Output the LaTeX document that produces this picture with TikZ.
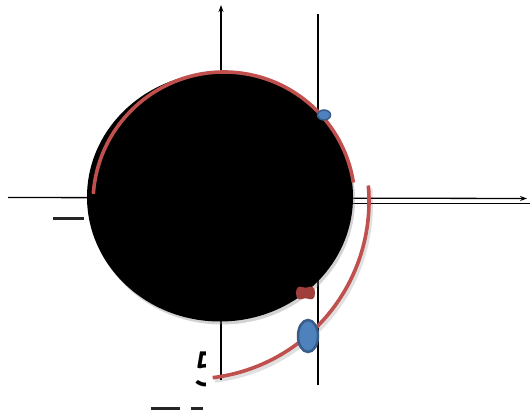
\documentclass[tikz,border=0pt]{standalone}
\usepackage{fontspec}
\newfontfamily\digitfont{Carlito}
\usetikzlibrary{shadows,arrows.meta}
\definecolor{redarc}{HTML}{C0504D}
\definecolor{bluefill}{HTML}{4F81BD}
\definecolor{blueline}{HTML}{385D8A}
\definecolor{bowred}{HTML}{A03E3B}
\tikzset{
  axis/.style={line width=1.3pt, -{Stealth[length=7pt,width=5pt]}},
  plainline/.style={line width=1.3pt},
  redcurve/.style={line width=3.6pt, redarc},
  bluedot/.style={fill=bluefill, draw=blueline},
  dashmark/.style={line width=3pt, black!85},
}
\begin{document}
\begin{tikzpicture}[x=1pt,y=1pt]
\useasboundingbox (0,0) rectangle (530,415);
% axes
\draw[axis] (8,217.5) -- (527,216.5);
\draw[plainline] (350,211.5) -- (530,211.5);
\draw[axis] (221,35) -- (221,410);
\draw[plainline] (318,30) -- (318,401);
% black disc
\fill[black, drop shadow={shadow xshift=2pt, shadow yshift=-3pt, opacity=0.35}] (220,218) ellipse[x radius=133, y radius=124.5];
% red arcs
\draw[redcurve] ([shift={(176:131)}]224,212) arc[start angle=176, end angle=9, radius=131];
\draw[line width=4pt, black, opacity=0.12] ([shift={(5:178)}]193,211) arc[start angle=5, end angle=-83, radius=178];
\draw[redcurve] ([shift={(5:178)}]191,214) arc[start angle=5, end angle=-83, radius=178];
% blue markers
\draw[bluedot, line width=1.5pt] (324,300) ellipse[x radius=6.5, y radius=5];
\draw[bluedot, line width=2.5pt] (308,79) ellipse[x radius=10, y radius=16];
% bow tie
\fill[bowred] (296,122) .. controls (296,128) and (299,129) .. (302,128)
  .. controls (304,127) and (307,127) .. (309,128)
  .. controls (312,129) and (315,128) .. (315,122)
  .. controls (315,116) and (312,115) .. (309,116)
  .. controls (307,117) and (304,117) .. (302,116)
  .. controls (299,115) and (296,116) .. (296,122) -- cycle;
% clipped text
\begin{scope}
\clip (185,20) rectangle (205,70);
\node[font=\digitfont\fontsize{54}{54}\selectfont, inner sep=0pt, anchor=base west] (five) at (193,28) {5};
\end{scope}
% dash marks
\draw[dashmark] (53,196) -- (84,196);
\draw[dashmark] (151,7) -- (180,7);
\draw[dashmark] (191,7) -- (203,7);
\end{tikzpicture}
\end{document}
